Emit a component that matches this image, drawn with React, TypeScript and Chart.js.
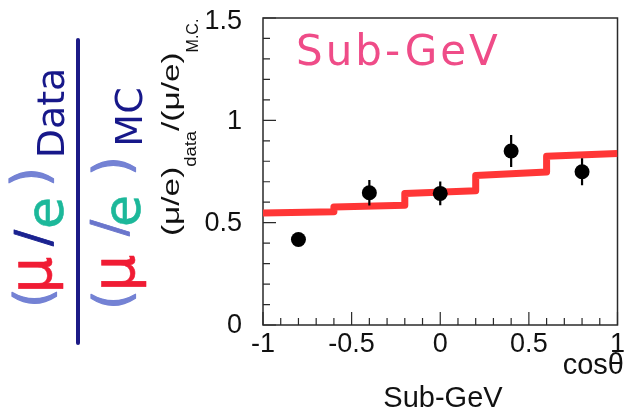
import { useEffect, useRef } from "react";
import { Chart, registerables } from "chart.js";

Chart.register(...registerables);

// Measured muon/electron ratio (data over Monte Carlo) per zenith-angle bin
const cosTheta = [-0.8, -0.4, 0, 0.4, 0.8];
const ratioData = [0.418, 0.646, 0.643, 0.85, 0.749];
const ratioErr = [0.03, 0.062, 0.058, 0.078, 0.066];

// Expected ratio (oscillation fit) as a binned histogram, value at each bin's left and right edge
const binEdges = [-1, -0.6, -0.2, 0.2, 0.6, 1];
const mcLeft = [0.547, 0.577, 0.642, 0.73, 0.824];
const mcRight = [0.553, 0.585, 0.656, 0.748, 0.838];

// Axis ticks
const xTickValues = [-1, -0.5, 0, 0.5, 1];
const xTickLabels = ["-1", "-0.5", "0", "0.5", "1"];
const yTickValues = [0, 0.5, 1, 1.5];
const yTickLabels = ["0", "0.5", "1", "1.5"];

const AXIS_FONT = '"Liberation Sans", Arial, sans-serif';
const HAND_FONT = '"DejaVu Sans", sans-serif';

type Glyph = { t: string; c: string; x: number; y: number; size: number; w: number };

// Hand-lettered (mu/e)_Data / (mu/e)_MC, written sideways on the left
const numeratorGlyphs: Glyph[] = [
  { t: "(", c: "#7482d4", x: 37, y: 298, size: 50, w: 1.2 },
  { t: "μ", c: "#f01c34", x: 36, y: 275, size: 58, w: 0.6 },
  { t: "/", c: "#1a2290", x: 37, y: 238, size: 48, w: 0.8 },
  { t: "e", c: "#1cb89a", x: 49, y: 213, size: 52, w: 0.6 },
  { t: ")", c: "#7482d4", x: 34, y: 177, size: 50, w: 1.2 },
  { t: "Data", c: "#17188a", x: 54, y: 113, size: 38, w: 0 },
];
const denominatorGlyphs: Glyph[] = [
  { t: "(", c: "#7482d4", x: 116, y: 300, size: 50, w: 1.2 },
  { t: "μ", c: "#f01c34", x: 119, y: 273, size: 58, w: 0.6 },
  { t: "/", c: "#6a76cc", x: 113, y: 228, size: 48, w: 0.8 },
  { t: "e", c: "#1cb89a", x: 126, y: 211, size: 52, w: 0.6 },
  { t: ")", c: "#7482d4", x: 116, y: 166, size: 50, w: 1.2 },
  { t: "MC", c: "#17188a", x: 132, y: 117, size: 38, w: 0 },
];

function drawRotatedGlyph(ctx: CanvasRenderingContext2D, g: Glyph) {
  ctx.save();
  ctx.translate(g.x, g.y);
  ctx.rotate(-Math.PI / 2);
  ctx.font = `${g.size}px ${HAND_FONT}`;
  ctx.fillStyle = g.c;
  ctx.strokeStyle = g.c;
  ctx.lineJoin = "round";
  ctx.textAlign = "center";
  ctx.textBaseline = "middle";
  ctx.fillText(g.t, 0, 0);
  if (g.w > 0) {
    ctx.lineWidth = g.w;
    ctx.strokeText(g.t, 0, 0);
  }
  ctx.restore();
}

const framePlugin = {
  id: "frameAndTicks",
  beforeDatasetsDraw(chart: any) {
    const { ctx, chartArea } = chart;
    const xs = chart.scales.x;
    const ys = chart.scales.y;
    ctx.save();
    ctx.strokeStyle = "#2a2a2a";
    ctx.lineWidth = 1.5;
    ctx.strokeRect(chartArea.left, chartArea.top, chartArea.right - chartArea.left, chartArea.bottom - chartArea.top);
    ctx.lineWidth = 1.2;
    ctx.beginPath();
    // inward ticks on the left axis, every 0.1
    for (let i = 0; i <= 15; i++) {
      const py = ys.getPixelForValue(i / 10);
      const len = i % 5 === 0 ? 13 : 7;
      ctx.moveTo(chartArea.left, py);
      ctx.lineTo(chartArea.left + len, py);
    }
    // inward ticks on the bottom axis, every 0.1
    for (let i = 0; i <= 20; i++) {
      const px = xs.getPixelForValue(-1 + i / 10);
      const len = i % 5 === 0 ? 13 : 7;
      ctx.moveTo(px, chartArea.bottom);
      ctx.lineTo(px, chartArea.bottom - len);
    }
    ctx.stroke();
    ctx.restore();
  },
  afterDatasetsDraw(chart: any) {
    const { ctx } = chart;
    const xs = chart.scales.x;
    const ys = chart.scales.y;
    ctx.save();
    ctx.strokeStyle = "#000";
    ctx.lineWidth = 2.2;
    ctx.beginPath();
    cosTheta.forEach((c, i) => {
      const px = xs.getPixelForValue(c);
      ctx.moveTo(px, ys.getPixelForValue(ratioData[i] - ratioErr[i]));
      ctx.lineTo(px, ys.getPixelForValue(ratioData[i] + ratioErr[i]));
    });
    ctx.stroke();
    ctx.restore();
  },
  afterDraw(chart: any) {
    const { ctx, chartArea } = chart;
    const xs = chart.scales.x;
    const ys = chart.scales.y;
    ctx.save();
    ctx.fillStyle = "#111";

    // tick labels
    ctx.font = `27px ${AXIS_FONT}`;
    ctx.textAlign = "right";
    ctx.textBaseline = "middle";
    yTickValues.forEach((v, i) => {
      const py = ys.getPixelForValue(v) + (i === yTickValues.length - 1 ? 4 : 1);
      ctx.fillText(yTickLabels[i], chartArea.left - 21, py);
    });
    ctx.textAlign = "center";
    xTickValues.forEach((v, i) => {
      ctx.fillText(xTickLabels[i], xs.getPixelForValue(v), chartArea.bottom + 20);
    });

    // axis titles
    ctx.font = `29px ${AXIS_FONT}`;
    ctx.textAlign = "right";
    ctx.textBaseline = "alphabetic";
    ctx.fillText("cosθ", 624, 374);
    ctx.textAlign = "center";
    ctx.fillText("Sub-GeV", 443, 407);

    // vertical title (μ/e)_data/(μ/e)_M.C.
    const segs = [
      { t: "(μ/e)", size: 23, dy: 0, sx: 1.45 },
      { t: "data", size: 16, dy: 17, sx: 1.15 },
      { t: "/(μ/e)", size: 23, dy: 0, sx: 1.45 },
      { t: "M.C.", size: 16, dy: 19, sx: 1.0 },
    ];
    ctx.translate(179, 236);
    ctx.rotate(-Math.PI / 2);
    ctx.textAlign = "left";
    let pos = 0;
    segs.forEach((s) => {
      ctx.font = `${s.size}px ${AXIS_FONT}`;
      const w = ctx.measureText(s.t).width * s.sx;
      ctx.save();
      ctx.translate(pos, s.dy);
      ctx.scale(s.sx, 1);
      ctx.fillText(s.t, 0, 0);
      ctx.restore();
      pos += w;
    });
    ctx.restore();

    // hand-written label inside the frame
    ctx.save();
    ctx.font = `42px ${HAND_FONT}`;
    ctx.fillStyle = "#ef4c88";
    ctx.textAlign = "left";
    ctx.textBaseline = "alphabetic";
    (ctx as any).letterSpacing = "3px";
    ctx.fillText("Sub-GeV", 296, 65);
    ctx.restore();

    // hand-written fraction on the left
    ctx.save();
    numeratorGlyphs.forEach((g) => drawRotatedGlyph(ctx, g));
    denominatorGlyphs.forEach((g) => drawRotatedGlyph(ctx, g));
    ctx.strokeStyle = "#1c1a86";
    ctx.lineWidth = 4;
    ctx.lineCap = "round";
    ctx.beginPath();
    ctx.moveTo(78, 40);
    ctx.lineTo(78, 343);
    ctx.stroke();
    ctx.restore();
  },
};

export default function App() {
  const canvasRef = useRef<HTMLCanvasElement | null>(null);

  useEffect(() => {
    const canvas = canvasRef.current;
    if (!canvas) return;

    const mcPoints: { x: number; y: number }[] = [];
    mcLeft.forEach((v, i) => {
      mcPoints.push({ x: binEdges[i], y: v });
      mcPoints.push({ x: binEdges[i + 1], y: mcRight[i] });
    });

    const chart = new Chart(canvas, {
      type: "scatter",
      data: {
        datasets: [
          {
            label: "data",
            data: cosTheta.map((c, i) => ({ x: c, y: ratioData[i] })),
            pointRadius: 7.5,
            pointBackgroundColor: "#000",
            pointBorderWidth: 0,
            order: 0,
          },
          {
            label: "expected",
            data: mcPoints,
            showLine: true,
            borderColor: "#ff3636",
            borderWidth: 7,
            borderJoinStyle: "round",
            borderCapStyle: "butt",
            pointRadius: 0,
            tension: 0,
            order: 1,
          } as any,
        ],
      },
      options: {
        responsive: false,
        devicePixelRatio: 1,
        animation: false,
        layout: { padding: { left: 263, right: 6, top: 18, bottom: 88 } },
        scales: {
          x: { type: "linear", min: -1, max: 1, display: false },
          y: { type: "linear", min: 0, max: 1.5, display: false },
        },
        plugins: {
          legend: { display: false },
          tooltip: { enabled: false },
        },
      },
      plugins: [framePlugin],
    });

    return () => chart.destroy();
  }, []);

  return (
    <div style={{ position: "absolute", left: 0, top: 0, width: 625, height: 413, background: "#fff" }}>
      <canvas ref={canvasRef} width={625} height={413} style={{ display: "block" }} />
    </div>
  );
}
